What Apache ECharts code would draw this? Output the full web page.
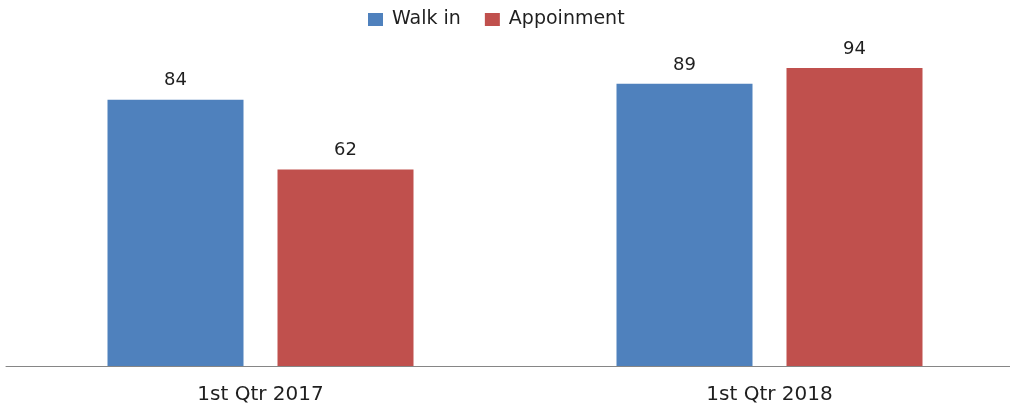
<!DOCTYPE html>
<html>
<head>
<meta charset="utf-8">
<script src="https://cdn.jsdelivr.net/npm/echarts@6/dist/echarts.min.js"></script>
<style>
html, body { margin: 0; padding: 0; background: #fff; overflow: hidden; }
#main { width: 1024px; height: 407px; }
</style>
</head>
<body>
<div id="main"></div>
<script>
var categories = ['1st Qtr 2017', '1st Qtr 2018'];
var walkIn = [84, 89];
var appointment = [62, 94];

var font = 'DejaVu Sans';
var textColor = '#1f1f1f';

var option = {
    animation: false,
    color: ['#4F81BD', '#C0504D'],
    legend: {
        top: 5,
        left: 363,
        itemWidth: 15,
        itemHeight: 13,
        itemGap: 24,
        icon: 'rect',
        textStyle: {
            fontFamily: font,
            fontSize: 19,
            color: textColor,
            padding: [0, 0, 0, 4]
        },
        data: ['Walk in', 'Appoinment']
    },
    grid: {
        left: 6,
        right: 0,
        top: 49,
        bottom: 41
    },
    xAxis: {
        type: 'category',
        data: categories,
        axisLine: { lineStyle: { color: '#868686', width: 1 } },
        axisTick: { show: false },
        axisLabel: {
            fontFamily: font,
            fontSize: 20,
            color: textColor,
            margin: 19
        }
    },
    yAxis: {
        type: 'value',
        min: 0,
        max: 100,
        show: false,
        splitLine: { show: false }
    },
    series: [
        {
            name: 'Walk in',
            type: 'bar',
            barWidth: 136,
            barGap: '25%',
            data: walkIn,
            label: {
                show: true,
                position: 'top',
                distance: 10,
                fontFamily: font,
                fontSize: 18,
                color: textColor
            }
        },
        {
            name: 'Appoinment',
            type: 'bar',
            barWidth: 136,
            barGap: '25%',
            data: appointment,
            label: {
                show: true,
                position: 'top',
                distance: 10,
                fontFamily: font,
                fontSize: 18,
                color: textColor
            }
        }
    ]
};

var myChart = echarts.init(document.getElementById('main'));
myChart.setOption(option);
</script>
</body>
</html>
